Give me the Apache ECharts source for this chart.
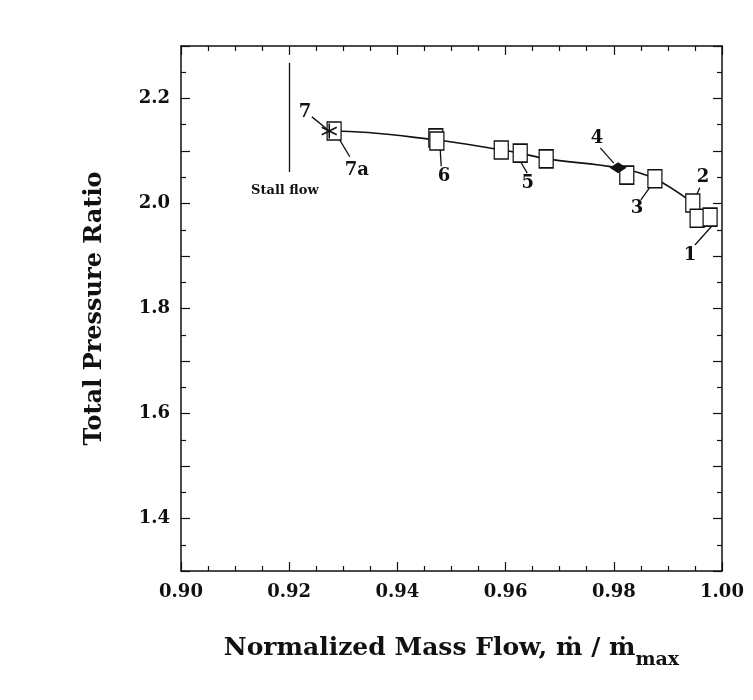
<!DOCTYPE html>
<html>
<head>
<meta charset="utf-8">
<script src="https://cdn.jsdelivr.net/npm/echarts@6/dist/echarts.min.js"></script>
<style>
  html, body { margin: 0; padding: 0; background: #fff; }
  #chart { width: 753px; height: 700px; }
</style>
</head>
<body>
<div id="chart"></div>
<script>
// measured operating points (open squares)
const flowPts = [0.9283, 0.9471, 0.9473, 0.9592, 0.9627, 0.9675, 0.9824, 0.9876, 0.9946, 0.9954, 0.9978]
const prPts = [2.138, 2.125, 2.119, 2.102, 2.096, 2.085, 2.054, 2.047, 2.001, 1.972, 1.974]
// point 4 (filled diamond) and point 7 (asterisk)
const diamondPt = [0.9808, 2.068]
const starPt = [0.9274, 2.138]
// speedline drawn through the points
const lineFlow = [0.9274, 0.9283, 0.9472, 0.9592, 0.9627, 0.9675, 0.9808, 0.9876, 0.9946]
const linePr = [2.138, 2.138, 2.121, 2.102, 2.096, 2.085, 2.068, 2.047, 2.001]
// point labels and their leader lines
const tagText = ['7', '7a', '6', '5', '4', '3', '2', '1']
const tagX = [0.9229, 0.9325, 0.9486, 0.9641, 0.9769, 0.9843, 0.9965, 0.9941]
const tagY = [2.174, 2.064, 2.052, 2.039, 2.125, 1.991, 2.050, 1.902]
const leaders = [
  [0.9242, 2.165, 0.9272, 2.140],
  [0.9290, 2.127, 0.9312, 2.089],
  [0.9479, 2.106, 0.9481, 2.071],
  [0.9628, 2.079, 0.9640, 2.058],
  [0.9775, 2.106, 0.9800, 2.077],
  [0.9850, 2.007, 0.9867, 2.031],
  [0.9959, 2.030, 0.9950, 2.010],
  [0.9950, 1.921, 0.9983, 1.959]
]
const stallFlow = 0.92
const stallRange = [2.06, 2.268]
const xTicks = { min: 0.9, max: 1.0, interval: 0.02 }
const yTicks = { min: 1.3, max: 2.3, interval: 0.1 }

const serif = 'DejaVu Serif'
const ink = '#111'
const chart = echarts.init(document.getElementById('chart'))

const tickStyle = { show: true, inside: true, length: 9, lineStyle: { color: ink, width: 1.2 } }
const minorStyle = { show: true, length: 5, lineStyle: { color: ink, width: 1.2 } }
const axisLine = { show: true, onZero: false, lineStyle: { color: ink, width: 1.5 } }

const leaderData = leaders.map(l => ({ coords: [[l[0], l[1]], [l[2], l[3]]] }))
leaderData.push({ coords: [[stallFlow, stallRange[0]], [stallFlow, stallRange[1]]] })

const textLabel = size => ({
  show: true,
  position: 'inside',
  formatter: p => p.value[2],
  fontFamily: serif,
  fontWeight: 'bold',
  fontSize: size,
  color: ink,
  textBorderWidth: 0
})

chart.setOption({
  animation: false,
  backgroundColor: '#fff',
  grid: { left: 181, right: 31, top: 46, bottom: 129 },
  xAxis: [{
    type: 'value',
    min: xTicks.min,
    max: xTicks.max,
    interval: xTicks.interval,
    axisLine: axisLine,
    axisTick: tickStyle,
    minorTick: Object.assign({ splitNumber: 4 }, minorStyle),
    splitLine: { show: false },
    axisLabel: {
      margin: 12,
      color: ink,
      fontFamily: serif,
      fontWeight: 'bold',
      fontSize: 18,
      formatter: v => v.toFixed(2)
    },
    name: '{a|Normalized Mass Flow, ṁ / ṁ}{s|max}',
    nameLocation: 'middle',
    nameGap: 56,
    nameTextStyle: {
      rich: {
        a: { fontFamily: serif, fontWeight: 'bold', fontSize: 25, color: ink },
        s: { fontFamily: serif, fontWeight: 'bold', fontSize: 19, color: ink, padding: [24, 0, 0, 0] }
      }
    }
  }, {
    type: 'value',
    position: 'top',
    min: xTicks.min,
    max: xTicks.max,
    interval: xTicks.interval,
    axisLine: axisLine,
    axisTick: tickStyle,
    minorTick: Object.assign({ splitNumber: 4 }, minorStyle),
    splitLine: { show: false },
    axisLabel: { show: false }
  }],
  yAxis: [{
    type: 'value',
    min: yTicks.min,
    max: yTicks.max,
    interval: yTicks.interval,
    axisLine: axisLine,
    axisTick: tickStyle,
    minorTick: Object.assign({ splitNumber: 2 }, minorStyle),
    splitLine: { show: false },
    axisLabel: {
      margin: 11,
      color: ink,
      fontFamily: serif,
      fontWeight: 'bold',
      fontSize: 18,
      formatter: v => (Math.round(v * 10) % 2 === 0 ? v.toFixed(1) : '')
    },
    name: 'Total Pressure Ratio',
    nameLocation: 'middle',
    nameGap: 74,
    nameTextStyle: { fontFamily: serif, fontWeight: 'bold', fontSize: 24, color: ink }
  }, {
    type: 'value',
    position: 'right',
    min: yTicks.min,
    max: yTicks.max,
    interval: yTicks.interval,
    axisLine: axisLine,
    axisTick: tickStyle,
    minorTick: Object.assign({ splitNumber: 2 }, minorStyle),
    splitLine: { show: false },
    axisLabel: { show: false }
  }],
  series: [
    {
      type: 'line',
      data: lineFlow.map((x, i) => [x, linePr[i]]),
      smooth: 0.35,
      showSymbol: false,
      lineStyle: { color: ink, width: 1.6 },
      z: 2
    },
    {
      type: 'lines',
      coordinateSystem: 'cartesian2d',
      data: leaderData,
      lineStyle: { color: ink, width: 1.3, opacity: 1 },
      z: 2
    },
    {
      type: 'scatter',
      data: flowPts.map((x, i) => [x, prPts[i]]),
      symbol: 'rect',
      symbolSize: [14, 18],
      itemStyle: { color: '#fff', borderColor: ink, borderWidth: 1.4, opacity: 1 },
      z: 3
    },
    {
      type: 'scatter',
      data: [diamondPt],
      symbol: 'diamond',
      symbolSize: [17, 11],
      itemStyle: { color: ink, opacity: 1 },
      z: 4
    },
    {
      type: 'scatter',
      data: [starPt],
      symbol: 'path://M0,-1L0,1M-0.87,-0.5L0.87,0.5M-0.87,0.5L0.87,-0.5',
      symbolSize: 15,
      itemStyle: { color: 'none', borderColor: ink, borderWidth: 1.6, opacity: 1 },
      z: 5
    },
    {
      type: 'scatter',
      data: tagText.map((t, i) => [tagX[i], tagY[i], t]),
      symbolSize: 0,
      itemStyle: { opacity: 1 },
      label: textLabel(18),
      z: 6
    },
    {
      type: 'scatter',
      data: [[0.9192, 2.024, 'Stall flow']],
      symbolSize: 0,
      itemStyle: { opacity: 1 },
      label: textLabel(13),
      z: 6
    }
  ]
})
</script>
</body>
</html>
